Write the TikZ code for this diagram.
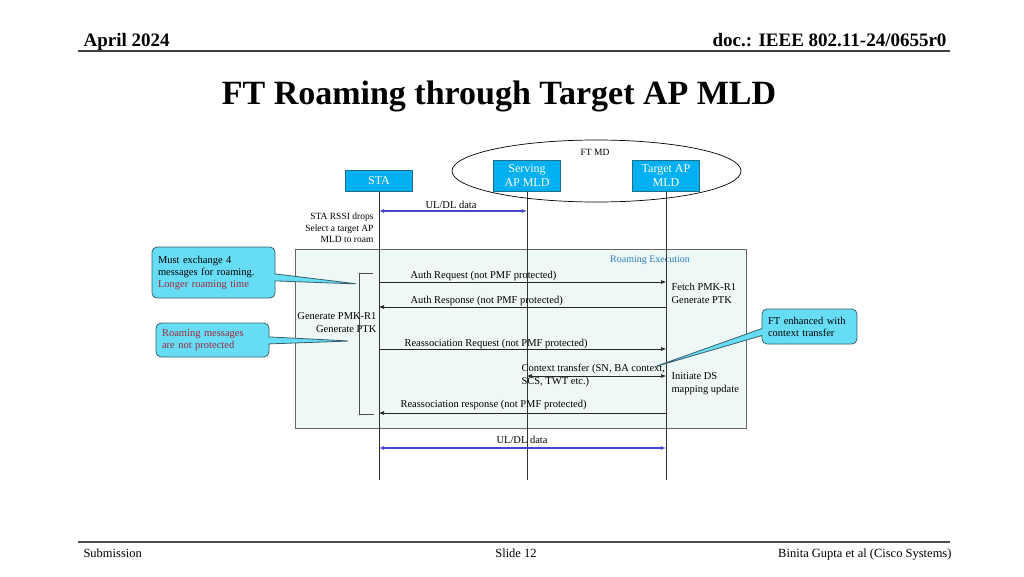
\documentclass[tikz,border=0pt]{standalone}
\usepackage{fontspec}
\setmainfont{Liberation Serif}
\usetikzlibrary{arrows.meta,shapes.geometric,shapes.callouts}

\definecolor{boxblue}{HTML}{00B0F0}
\definecolor{boxedge}{HTML}{1F6E8C}
\definecolor{notefill}{HTML}{66DDF5}
\definecolor{noteedge}{HTML}{3A5F6C}
\definecolor{notered}{HTML}{A0283C}
\definecolor{execfill}{HTML}{EEF8F6}
\definecolor{execblue}{HTML}{2F7FC1}
\definecolor{datablue}{HTML}{4646CC}

\tikzset{
  entity/.style={draw=boxedge, fill=boxblue, text=white, align=center,
    inner sep=1pt, minimum width=67pt, font=\fontsize{12}{14}\selectfont},
  life/.style={black!80, line width=0.7pt},
  msg/.style={-{Latex[length=5pt,width=4pt]}, black!85, line width=0.6pt},
  data/.style={{Latex[length=5pt,width=4pt]}-{Latex[length=5pt,width=4pt]},
    datablue, line width=1.6pt},
  lbl/.style={font=\fontsize{10.5}{13}\selectfont},
  small/.style={font=\fontsize{9.5}{11.5}\selectfont},
  note/.style={rectangle callout, rounded corners=5pt, draw=noteedge,
    fill=notefill, line width=0.8pt, align=left, inner sep=6pt,
    callout pointer width=7pt, font=\fontsize{10.5}{12}\selectfont}
}

\begin{document}
\begin{tikzpicture}[x=1pt, y=-1pt]

\useasboundingbox (0,0) rectangle (1024,576);

% Header
\node[anchor=base west, font=\fontsize{19}{22}\selectfont\bfseries] (date) at (80,46) {April 2024};
\node[anchor=base east, font=\fontsize{19}{22}\selectfont\bfseries] (docid) at (950,46) {doc.: IEEE 802.11-24/0655r0};
\draw[line width=1.5pt, black!75] (78,51) -- (950,51);

% Title
\node[anchor=base, font=\fontsize{34}{40}\selectfont\bfseries] (title) at (499,104) {FT Roaming through Target AP MLD};

% Mobility domain
\node[draw, ellipse, line width=0.7pt, minimum width=289pt, minimum height=62pt, inner sep=0pt] (ftmd) at (596.5,171) {};
\node[small] (ftmdlbl) at (595,152) {FT MD};

% Roaming execution area
\node[draw=black!60, fill=execfill, line width=0.7pt, minimum width=451pt, minimum height=179pt, inner sep=0pt] (exec) at (520.5,338.5) {};
\node[font=\fontsize{10}{12}\selectfont, text=execblue] (execlbl) at (650,260) {Roaming Execution};

% Entities
\node[entity, minimum height=21pt] (sta) at (379,181) {STA};
\node[entity, minimum height=31pt] (serving) at (527,176) {Serving\\AP MLD};
\node[entity, minimum height=31pt] (target) at (666,176) {Target AP\\MLD};

% Lifelines
\draw[life] (sta) -- (sta |- 0,480);
\draw[life] (serving) -- (serving |- 0,480);
\draw[life] (target) -- (target |- 0,480);

% Bracket
\draw[black!70, line width=0.7pt] (373,273) -- (359,273) -- (359,414) -- (374,414);

% Messages
\draw[data] (sta |- 0,211) -- (serving |- 0,211);
\node[lbl, anchor=base west] (data1) at (422,208) {UL/DL data};
\node[small, align=right, anchor=east] (rssi) at (377,228) {STA RSSI drops\\Select a target AP\\MLD to roam};

\draw[msg] (sta |- 0,282) -- (target |- 0,282);
\node[lbl, anchor=base west] (authreq) at (407,278) {Auth Request (not PMF protected)};
\node[lbl, align=left, anchor=north west] (fetch) at (668,280) {Fetch PMK-R1\\Generate PTK};

\draw[msg] (target |- 0,307) -- (sta |- 0,307);
\node[lbl, anchor=base west] (authresp) at (407,303) {Auth Response (not PMF protected)};
\node[lbl, align=right, anchor=north east] (genpmk) at (380,309) {Generate PMK-R1\\Generate PTK};

\draw[msg] (sta |- 0,349) -- (target |- 0,349);
\node[lbl, anchor=base west] (reassreq) at (401,346) {Reassociation Request (not PMF protected)};

\draw[{Latex[length=5pt,width=4pt]}-{Latex[length=5pt,width=4pt]}, black!85, line width=0.6pt] (serving |- 0,376) -- (target |- 0,376);
\node[lbl, align=left, anchor=north west] (ctx) at (518,361) {Context transfer (SN, BA context,\\SCS, TWT etc.)};
\node[lbl, align=left, anchor=north west] (initds) at (668,369) {Initiate DS\\mapping update};

\draw[msg] (target |- 0,413) -- (sta |- 0,413);
\node[lbl, anchor=base west] (reassresp) at (397,407) {Reassociation response (not PMF protected)};

\draw[data] (sta |- 0,448) -- (target |- 0,448);
\node[lbl, anchor=base west] (data2) at (493,443) {UL/DL data};

% Notes
\node[note, text width=111pt, minimum height=51pt, callout absolute pointer={(358,284)}] (note1) at (213.5,272.5) {Must exchange 4\\messages for roaming.\\\textcolor{notered}{Longer roaming time}};
\node[note, text width=101pt, minimum height=34pt, text=notered, callout absolute pointer={(350,341)}] (note2) at (212.5,340) {Roaming messages\\are not protected};
\node[note, text width=83pt, minimum height=35pt, callout absolute pointer={(654,367)}] (note3) at (809.5,326.5) {FT enhanced with\\context transfer};

% Footer
\draw[line width=1.2pt, black!70] (78,542) -- (950,542);
\node[anchor=base west, font=\fontsize{12.5}{15}\selectfont] (sub) at (80,557) {Submission};
\node[anchor=base, font=\fontsize{12.5}{15}\selectfont] (slide) at (516,557) {Slide 12};
\node[anchor=base east, font=\fontsize{12.5}{15}\selectfont] (authors) at (955,557) {Binita Gupta et al (Cisco Systems)};

\end{tikzpicture}
\end{document}
